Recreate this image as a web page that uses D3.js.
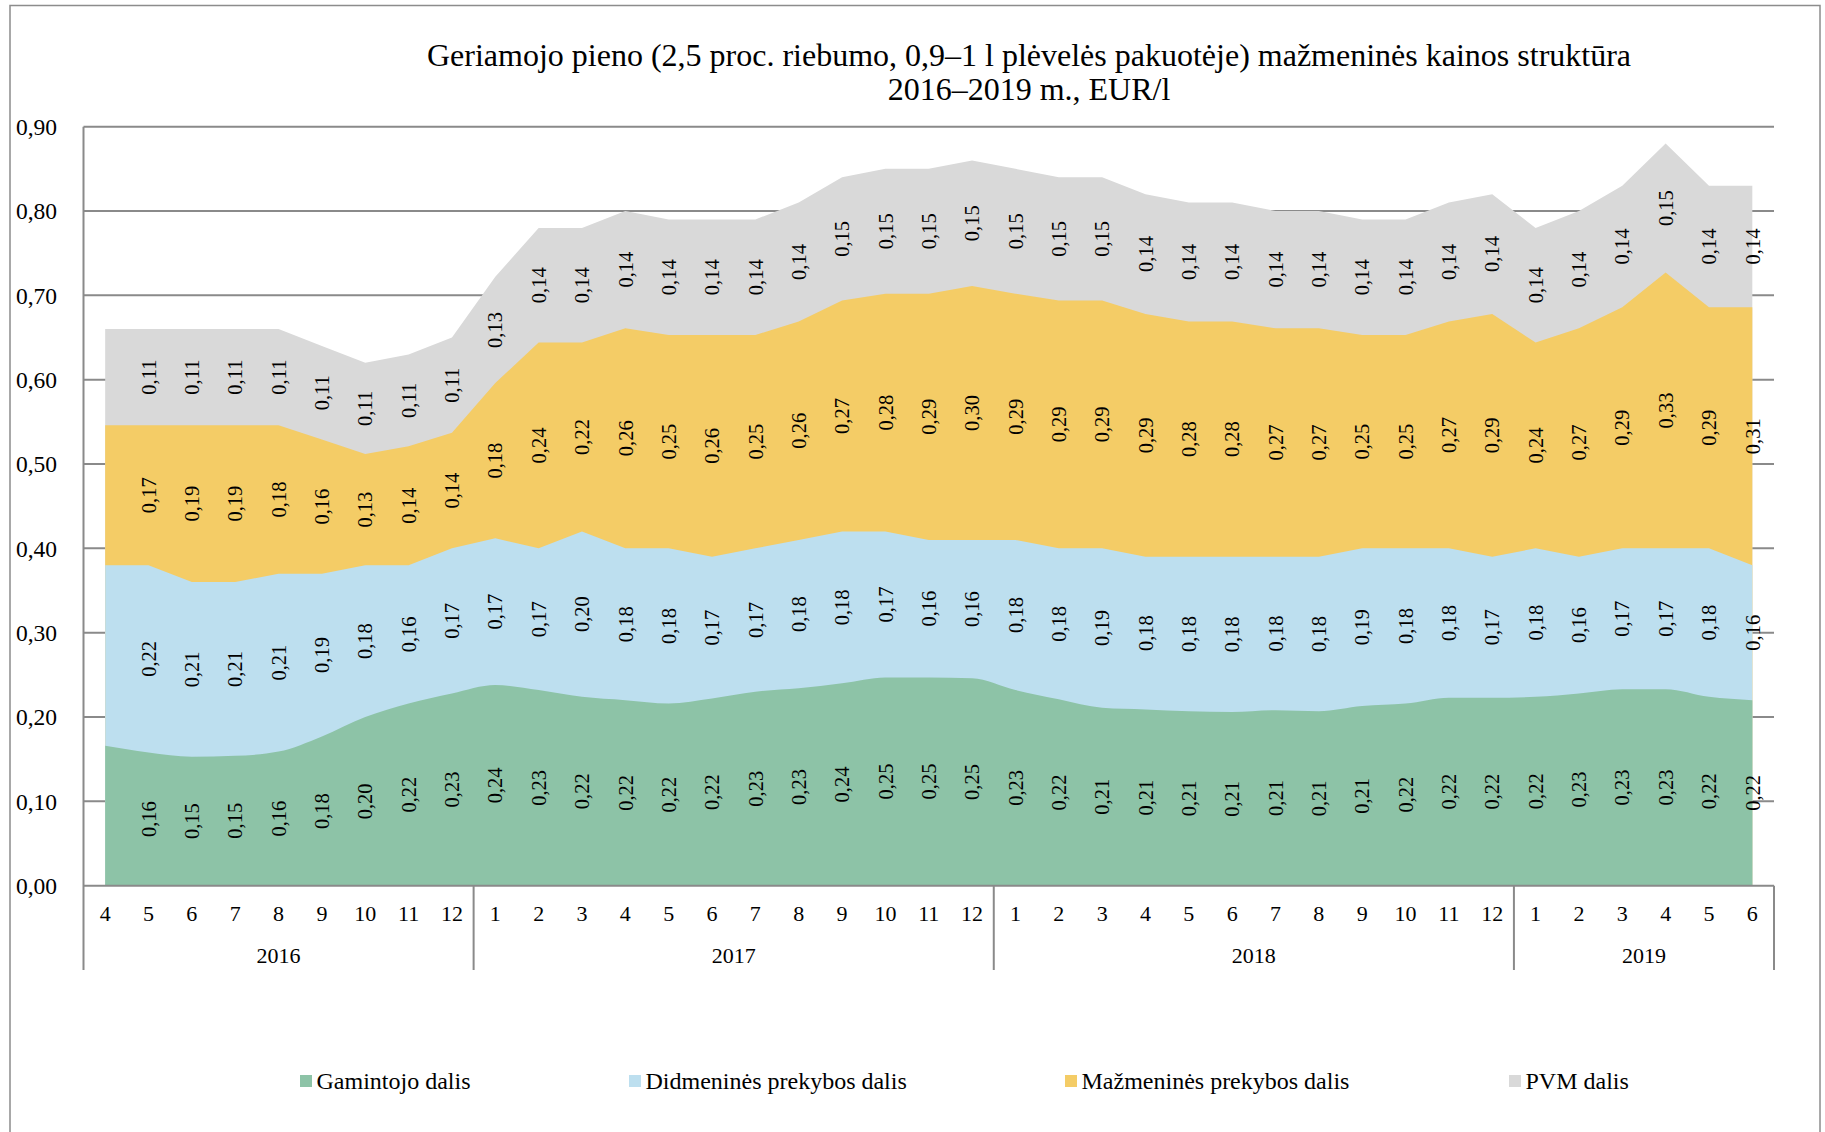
<!DOCTYPE html>
<html>
<head>
<meta charset="utf-8">
<script src="https://cdn.jsdelivr.net/npm/d3@7"></script>
<style>
  body { margin: 0; background: #fff; }
  svg text { font-family: "Liberation Serif", "Times New Roman", serif; fill: #000; }
</style>
</head>
<body>
<svg id="chart" width="1825" height="1132"></svg>
<script>
// --- data (EUR/l), April 2016 – June 2019 ---
const months = [4,5,6,7,8,9,10,11,12, 1,2,3,4,5,6,7,8,9,10,11,12, 1,2,3,4,5,6,7,8,9,10,11,12, 1,2,3,4,5,6];
const years = ["2016", "2017", "2018", "2019"];
const yearCounts = [9, 12, 12, 6];

const gamintojo  = [0.166,0.158,0.153,0.154,0.159,0.177,0.200,0.216,0.228,0.238,0.232,0.224,0.220,0.216,0.222,0.230,0.234,0.240,0.247,0.247,0.246,0.232,0.221,0.211,0.209,0.207,0.206,0.208,0.207,0.213,0.216,0.223,0.223,0.224,0.228,0.233,0.233,0.224,0.220];
const didmenines = [0.214,0.222,0.207,0.206,0.211,0.193,0.180,0.164,0.172,0.174,0.168,0.196,0.180,0.184,0.168,0.170,0.176,0.180,0.173,0.163,0.164,0.178,0.179,0.189,0.181,0.183,0.184,0.182,0.183,0.187,0.184,0.177,0.167,0.176,0.162,0.167,0.167,0.176,0.160];
const mazmenines = [0.166,0.166,0.186,0.186,0.176,0.159,0.132,0.141,0.137,0.184,0.244,0.224,0.261,0.253,0.263,0.253,0.259,0.274,0.282,0.292,0.301,0.292,0.294,0.294,0.288,0.279,0.279,0.271,0.271,0.253,0.253,0.269,0.288,0.244,0.271,0.286,0.327,0.286,0.306];
const pvm        = [0.114,0.114,0.114,0.114,0.114,0.111,0.108,0.109,0.113,0.126,0.136,0.136,0.139,0.137,0.137,0.137,0.141,0.146,0.148,0.148,0.149,0.148,0.146,0.146,0.142,0.141,0.141,0.139,0.139,0.137,0.137,0.141,0.142,0.136,0.139,0.144,0.153,0.144,0.144];

const seriesNames  = ["Gamintojo dalis", "Didmeninės prekybos dalis", "Mažmeninės prekybos dalis", "PVM dalis"];
const seriesColors = ["#8dc3a7", "#bddfef", "#f4cc66", "#d9d9d9"];
const yTicks = [0, 0.1, 0.2, 0.3, 0.4, 0.5, 0.6, 0.7, 0.8, 0.9];

const titleLines = [
  "Geriamojo pieno (2,5 proc. riebumo, 0,9–1 l plėvelės pakuotėje) mažmeninės kainos struktūra",
  "2016–2019 m., EUR/l"
];

// --- layout ---
const svg = d3.select("#chart");
const plotL = 83.5, plotR = 1774, plotT = 126.7, plotB = 885.7;
const axisDrop = 970;
const gridColor = "#8a8a8a";

const rows = months.map((m, i) => ({
  i, m,
  gamintojo: gamintojo[i], didmenines: didmenines[i],
  mazmenines: mazmenines[i], pvm: pvm[i]
}));
const keys = ["gamintojo", "didmenines", "mazmenines", "pvm"];
const stacked = d3.stack().keys(keys)(rows);

const x = d3.scalePoint().domain(d3.range(months.length)).range([plotL, plotR]).padding(0.5);
const y = d3.scaleLinear().domain([0, 0.9]).range([plotB, plotT]);

// outer frame
svg.append("rect")
  .attr("x", 10).attr("y", 5.5).attr("width", 1810).attr("height", 1140)
  .attr("fill", "none").attr("stroke", "#8c8c8c").attr("stroke-width", 1.5);

// title
svg.append("g").selectAll("text").data(titleLines).join("text")
  .attr("x", 1029).attr("y", (d, i) => 65.5 + i * 34.5)
  .attr("text-anchor", "middle")
  .attr("font-size", 32)
  .text(d => d);

// gridlines
svg.append("g").selectAll("line").data(yTicks.slice(1)).join("line")
  .attr("x1", plotL).attr("x2", plotR)
  .attr("y1", d => y(d)).attr("y2", d => y(d))
  .attr("stroke", gridColor).attr("stroke-width", 2);

// areas: each layer drawn from 0 up to its cumulative top, top layer first
const layers = svg.append("g");
for (let k = keys.length - 1; k >= 0; k--) {
  const area = d3.area()
    .x((d, i) => x(i))
    .y0(y(0))
    .y1(d => y(d[1]))
    .curve(k === 0 ? d3.curveMonotoneX : d3.curveLinear);
  layers.append("path")
    .datum(stacked[k])
    .attr("fill", seriesColors[k])
    .attr("d", area);
}

// axes lines
svg.append("line").attr("x1", plotL).attr("x2", plotL).attr("y1", plotT).attr("y2", axisDrop)
  .attr("stroke", gridColor).attr("stroke-width", 2);
svg.append("line").attr("x1", plotL).attr("x2", plotR).attr("y1", plotB).attr("y2", plotB)
  .attr("stroke", gridColor).attr("stroke-width", 2);

// y labels
svg.append("g").selectAll("text").data(yTicks).join("text")
  .attr("x", 57).attr("y", d => y(d)).attr("dy", "0.35em")
  .attr("text-anchor", "end").attr("font-size", 23.5)
  .text(d => d3.format(".2f")(d).replace(".", ","));

// month labels
svg.append("g").selectAll("text").data(months).join("text")
  .attr("x", (d, i) => x(i)).attr("y", 920.5)
  .attr("text-anchor", "middle").attr("font-size", 22)
  .text(d => d);

// year groups
const step = x.step();
let start = 0;
const groups = years.map((yr, j) => {
  const g = { yr, x0: plotL + start * step, x1: plotL + (start + yearCounts[j]) * step };
  start += yearCounts[j];
  return g;
});
svg.append("g").selectAll("line").data(groups).join("line")
  .attr("x1", d => d.x1).attr("x2", d => d.x1)
  .attr("y1", plotB).attr("y2", axisDrop)
  .attr("stroke", gridColor).attr("stroke-width", 2);
svg.append("g").selectAll("text").data(groups).join("text")
  .attr("x", d => (d.x0 + d.x1) / 2).attr("y", 963)
  .attr("text-anchor", "middle").attr("font-size", 22)
  .text(d => d.yr);

// data labels (none on the first point)
const fmt = v => d3.format(".2f")(v).replace(".", ",");
stacked.forEach(layer => {
  svg.append("g").selectAll("text").data(layer.slice(1)).join("text")
    .attr("transform", d => `translate(${x(d.data.i)},${y((d[0] + d[1]) / 2)}) rotate(-90)`)
    .attr("text-anchor", "middle").attr("dy", "0.35em")
    .attr("font-size", 20.5)
    .text(d => fmt(d.data[layer.key]));
});

// legend
const legendX = [300, 629, 1065, 1509];
const legend = svg.append("g").selectAll("g").data(seriesNames).join("g")
  .attr("transform", (d, i) => `translate(${legendX[i]},1081)`);
legend.append("rect").attr("x", 0).attr("y", -6).attr("width", 12).attr("height", 12)
  .attr("fill", (d, i) => seriesColors[i]);
legend.append("text").attr("x", 16.5).attr("dy", "0.35em").attr("font-size", 24)
  .text(d => d);
</script>
</body>
</html>
